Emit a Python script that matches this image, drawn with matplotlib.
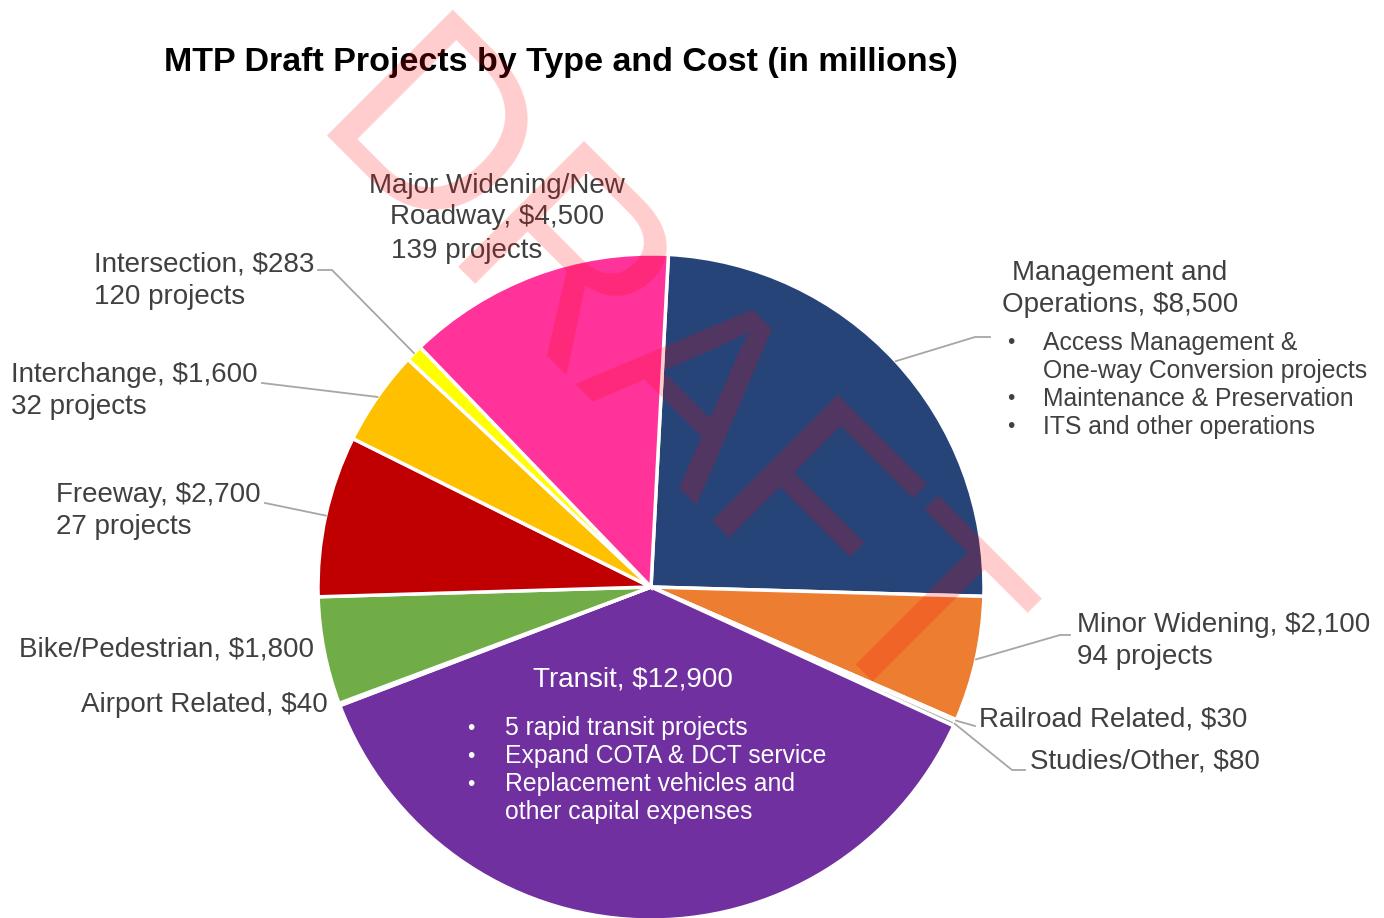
import numpy as np
import matplotlib
matplotlib.use('Agg')
import matplotlib.pyplot as plt

# slice data, clockwise from the top
categories = ['Management and Operations', 'Minor Widening', 'Railroad Related',
              'Studies/Other', 'Transit', 'Airport Related', 'Bike/Pedestrian',
              'Freeway', 'Interchange', 'Intersection', 'Major Widening/New Roadway']
costs = [8500, 2100, 30, 80, 12900, 40, 1800, 2700, 1600, 283, 4500]
projects = [None, 94, None, None, None, None, None, 27, 32, 120, 139]
colors = ['#264478', '#ED7D31', '#997300', '#A5A5A5', '#7030A0', '#5B9BD5',
          '#70AD47', '#C00000', '#FFC000', '#FFFF00', '#FF3399']

mgmt_bullets = ['Access Management &\nOne-way Conversion projects',
                'Maintenance & Preservation', 'ITS and other operations']
transit_bullets = ['5 rapid transit projects', 'Expand COTA & DCT service',
                   'Replacement vehicles and\nother capital expenses']

W, H = 1384, 918
plt.rcParams['font.family'] = ['Liberation Sans', 'DejaVu Sans']

fig = plt.figure(figsize=(W / 100, H / 100), dpi=100)
ax = fig.add_axes([0, 0, 1, 1])

def P(x, y):
  # pixel coords (top-left origin) -> data coords
  return (x, H - y)

cx, cy = P(651, 587)
R = 333
START = 87

wedges, _ = ax.pie(costs, colors=colors, startangle=START, counterclock=False,
                   center=(cx, cy), radius=R,
                   wedgeprops=dict(edgecolor='white', linewidth=2.5))
ax.set_xlim(0, W)
ax.set_ylim(0, H)
ax.set_aspect('equal')
ax.axis('off')

def edge_point(i, rr=R):
  w = wedges[i]
  mid = np.deg2rad((w.theta1 + w.theta2) / 2)
  return (cx + rr * np.cos(mid), cy + rr * np.sin(mid))

lab_col = '#404040'
line_col = '#A6A6A6'
fs = 20
bfs = 17.8

def leader(i, pts):
  x0, y0 = edge_point(i)
  xs = [x0] + [P(*p)[0] for p in pts]
  ys = [y0] + [P(*p)[1] for p in pts]
  ax.plot(xs, ys, color=line_col, lw=1.3, zorder=3)

def label(x, y, s, ha='left', color=lab_col, size=fs, ls=1.33):
  ax.text(*P(x, y), s, ha=ha, va='center', color=color, fontsize=size,
          linespacing=ls, zorder=4)

def money(v):
  return f'${v:,}'

# Major widening (top)
label(497, 186, 'Major Widening/New', ha='center')
label(497, 217, f'Roadway, {money(costs[10])}', ha='center')
label(391, 251, f'{projects[10]} projects')

# Intersection
label(94, 281, f'Intersection, {money(costs[9])}\n{projects[9]} projects')
leader(9, [(332, 270), (318, 270)])

# Interchange
label(11, 391, f'Interchange, {money(costs[8])}\n{projects[8]} projects')
leader(8, [(262, 383)])

# Freeway
label(56, 511, f'Freeway, {money(costs[7])}\n{projects[7]} projects')
leader(7, [(265, 503)])

label(19, 649, f'Bike/Pedestrian, {money(costs[6])}')
label(81, 705, f'Airport Related, {money(costs[5])}')

# Transit inside the slice
label(633, 679, f'Transit, {money(costs[4])}', ha='center', color='white')
ty = [728, 756, 798]
for yy, b in zip(ty, transit_bullets):
  lines = b.split('\n')
  label(467, yy - 14 * (len(lines) - 1), '•', color='white', size=15)
  label(505, yy, b, color='white', size=bfs, ls=1.17)

# Management and operations
label(1120, 273, 'Management and', ha='center')
label(1120, 305, f'Operations, {money(costs[0])}', ha='center')
my = [357, 399, 427]
for yy, b in zip(my, mgmt_bullets):
  lines = b.split('\n')
  label(1007, yy - 14 * (len(lines) - 1), '•', size=15)
  label(1043, yy, b, size=bfs, ls=1.17)
leader(0, [(975, 337), (990, 337)])

# Minor widening
label(1077, 641, f'Minor Widening, {money(costs[1])}\n{projects[1]} projects')
leader(1, [(1060, 635), (1070, 635)])

label(979, 720, f'Railroad Related, {money(costs[2])}')
leader(2, [(975, 726)])
label(1030, 762, f'Studies/Other, {money(costs[3])}')
leader(3, [(1012, 770), (1025, 770)])

# title
ax.text(*P(561, 62), 'MTP Draft Projects by Type and Cost (in millions)',
        ha='center', va='center', fontsize=24.5, fontweight='bold', color='black')

# DRAFT watermark, anchored at the baseline start of the D
ax.text(*P(305, 135), 'DRAFT', ha='left', va='baseline', rotation=-45,
        rotation_mode='anchor', fontsize=186, color='red', alpha=0.2,
        zorder=10)

fig.savefig('out.png', dpi=100)
